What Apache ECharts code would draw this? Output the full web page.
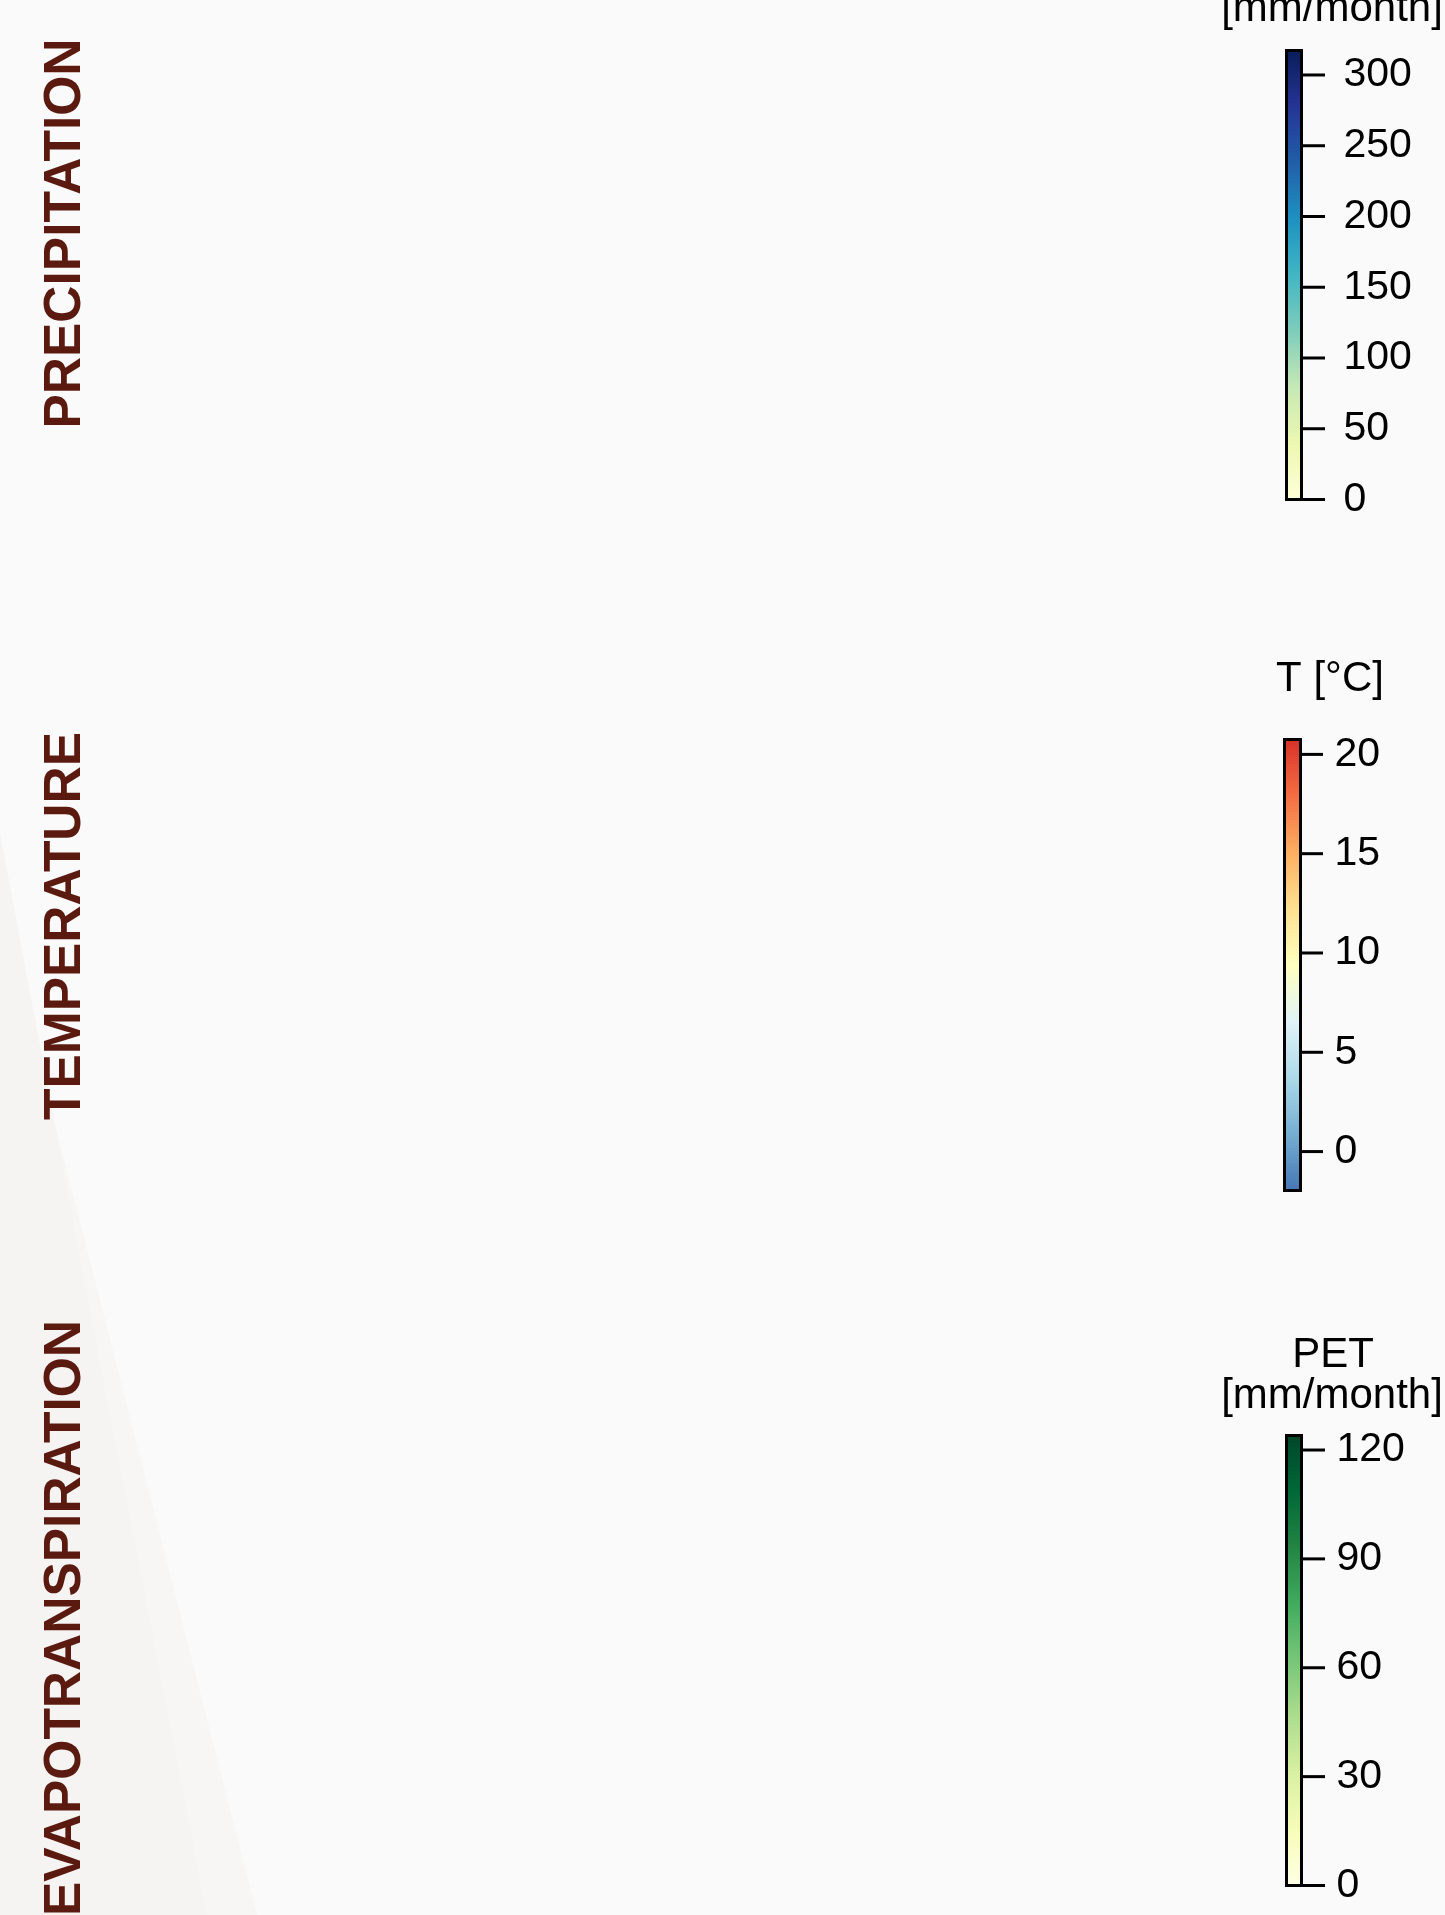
<!DOCTYPE html>
<html><head><meta charset="utf-8">
<script src="https://cdn.jsdelivr.net/npm/echarts@6/dist/echarts.min.js"></script>
<style>html,body{margin:0;padding:0;background:#fafafa}#c{width:1445px;height:1915px}</style>
</head><body><div id="c"></div>
<script>
// ---- data ----
const precipRange = [0, 317.3];
const precipTicks = [0, 50, 100, 150, 200, 250, 300];
const precipColors = ['#ffffd9','#edf8b1','#c7e9b4','#7fcdbb','#41b6c4','#1d91c0','#225ea8','#253494','#081d58'];
const tempRange = [-1.96, 20.75];
const tempTicks = [0, 5, 10, 15, 20];
const tempColors = ['#4575b4','#74add1','#abd9e9','#e0f3f8','#ffffbf','#fee090','#fdae61','#f46d43','#d73027'];
const petRange = [0, 124];
const petTicks = [0, 30, 60, 90, 120];
const petColors = ['#ffffe5','#f7fcb9','#d9f0a3','#addd8e','#78c679','#41ab5d','#238443','#006837','#004529'];
const panelNames = ['PRECIPITATION', 'TEMPERATURE', 'EVAPOTRANSPIRATION'];
const precipTitle = ['[mm/month]'];
const tempTitle = ['T [°C]'];
const petTitle = ['PET', '[mm/month]'];

// ---- chart ----
const chart = echarts.init(document.getElementById('c'), null, {renderer: 'canvas'});
const FONT = '"Liberation Sans", Arial, Helvetica, sans-serif';

function renderBar(colors, ticks, tickLen) {
  return function (params, api) {
    const p0 = api.coord([0, api.value(0)]);
    const p1 = api.coord([1, api.value(1)]);
    const stops = colors.map((c, i) => ({offset: i / (colors.length - 1), color: c}));
    const children = [{
      type: 'rect',
      shape: {x: p0[0], y: p1[1], width: p1[0] - p0[0], height: p0[1] - p1[1]},
      style: {fill: new echarts.graphic.LinearGradient(0, 1, 0, 0, stops), stroke: '#000', lineWidth: 3}
    }];
    ticks.forEach(function (v) {
      const p = api.coord([1, v]);
      children.push({type: 'line', shape: {x1: p[0], y1: p[1], x2: p[0] + tickLen, y2: p[1]},
        style: {stroke: '#000', lineWidth: 3}});
    });
    return {type: 'group', children: children};
  };
}
function xAx(gi) {
  return {gridIndex: gi, type: 'value', min: 0, max: 1, show: false};
}
function yAx(gi, range, ticks, margin) {
  return {
    gridIndex: gi, type: 'value', position: 'right', min: range[0], max: range[1],
    axisLine: {show: false}, splitLine: {show: false},
    axisTick: {show: false, customValues: ticks},
    axisLabel: {show: true, margin: margin, color: '#000', fontSize: 41, fontFamily: FONT,
      padding: [7, 0, 0, 0], customValues: ticks}
  };
}
function label(text, x, y, align) {
  return {type: 'text', x: x, y: y, rotation: Math.PI / 2, z: 10,
    style: {text: text, fill: '#5b1a0f', font: 'bold 51.5px ' + FONT, align: align, verticalAlign: 'middle'}};
}
function title(text, x, y) {
  return {type: 'text', x: x, y: y, z: 10,
    style: {text: text, fill: '#000', font: '42px ' + FONT, align: 'center', verticalAlign: 'middle'}};
}

const option = {
  backgroundColor: '#fafafa',
  animation: false,
  grid: [
    {left: 1286.5, top: 50.5, width: 15, height: 449},
    {left: 1284.5, top: 739.5, width: 16, height: 451},
    {left: 1286.5, top: 1435.5, width: 15, height: 450}
  ],
  xAxis: [xAx(0), xAx(1), xAx(2)],
  yAxis: [
    yAx(0, precipRange, precipTicks, 42),
    yAx(1, tempRange, tempTicks, 34),
    yAx(2, petRange, petTicks, 35)
  ],
  series: [
    {type: 'custom', xAxisIndex: 0, yAxisIndex: 0, clip: false, renderItem: renderBar(precipColors, precipTicks, 23.5), data: [precipRange]},
    {type: 'custom', xAxisIndex: 1, yAxisIndex: 1, clip: false, renderItem: renderBar(tempColors, tempTicks, 22.5), data: [tempRange]},
    {type: 'custom', xAxisIndex: 2, yAxisIndex: 2, clip: false, renderItem: renderBar(petColors, petTicks, 23.5), data: [petRange]}
  ],
  graphic: [
    {type: 'polygon', z: -10, silent: true, shape: {points: [[50, 1105], [100, 1300], [257, 1915], [207, 1915], [88, 1300]]}, style: {fill: '#f7f6f5'}},
    {type: 'polygon', z: -9, silent: true, shape: {points: [[0, 833], [88, 1300], [207, 1915], [0, 1915]]}, style: {fill: '#f5f4f3'}},
    label(panelNames[0], 65.5, 233.5, 'center'),
    label(panelNames[1], 65.5, 926, 'center'),
    label(panelNames[2], 65.5, 1320, 'right'),
    title(precipTitle[0], 1332, 9),
    title(tempTitle[0], 1330, 679),
    title(petTitle[0], 1333, 1355),
    title(petTitle[1], 1332, 1396)
  ]
};
chart.setOption(option);
</script>
</body></html>
